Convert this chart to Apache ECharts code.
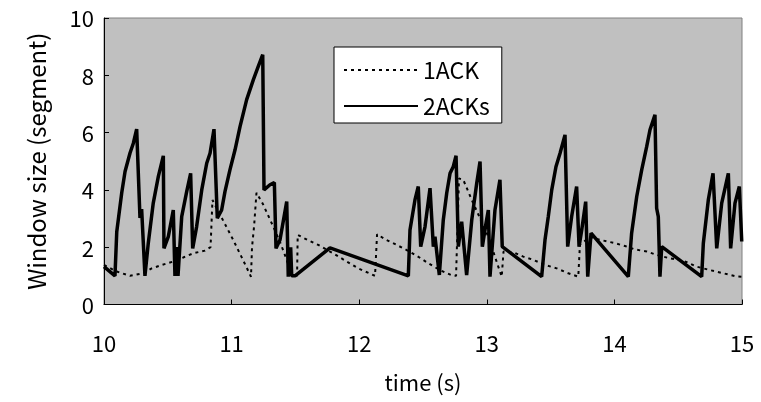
<!DOCTYPE html>
<html>
<head>
<meta charset="utf-8">
<script src="https://cdn.jsdelivr.net/npm/echarts@6/dist/echarts.min.js"></script>
<style>html,body{margin:0;padding:0;background:#fff}#c{width:761px;height:402px}</style>
</head>
<body>
<div id="c"></div>
<script>
var xTicks = [10, 11, 12, 13, 14, 15];
var yTicks = [0, 2, 4, 6, 8, 10];
var seriesNames = ['1ACK', '2ACKs'];

var ack1Times = [10.000,10.100,10.204,10.308,10.374,10.452,10.543,10.621,10.700,10.792,10.835,10.850,10.935,11.013,11.092,11.152,11.160,11.176,11.195,11.244,11.314,11.379,11.432,11.471,11.513,11.518,11.601,11.679,11.810,11.902,11.993,12.124,12.140,12.215,12.294,12.372,12.451,12.541,12.633,12.735,12.759,12.782,12.816,12.882,12.947,13.012,13.090,13.117,13.131,13.221,13.286,13.364,13.456,13.548,13.639,13.717,13.730,13.810,13.914,14.005,14.083,14.162,14.253,14.331,14.435,14.540,14.645,14.749,14.853,14.958,14.998];
var ack1Values = [1.38,1.15,1.00,1.09,1.26,1.38,1.50,1.64,1.79,1.88,2.00,3.65,2.92,2.25,1.53,0.97,2.00,2.72,3.90,3.52,2.84,2.19,1.56,1.00,1.00,2.43,2.24,2.08,1.75,1.50,1.26,1.00,2.45,2.25,2.08,1.90,1.70,1.44,1.20,1.00,1.00,4.40,4.35,3.65,3.01,2.37,1.32,0.97,1.85,1.80,1.67,1.56,1.38,1.26,1.09,0.97,2.10,2.35,2.23,2.14,2.04,1.92,1.85,1.73,1.61,1.53,1.32,1.20,1.09,0.98,0.97];

var ack2Times = [10.000,10.086,10.100,10.139,10.165,10.204,10.230,10.256,10.282,10.295,10.308,10.321,10.347,10.386,10.426,10.465,10.470,10.504,10.543,10.556,10.567,10.580,10.609,10.648,10.679,10.695,10.726,10.766,10.805,10.831,10.862,10.888,10.922,10.948,10.987,11.027,11.066,11.118,11.170,11.209,11.244,11.254,11.301,11.335,11.348,11.379,11.432,11.444,11.463,11.471,11.497,11.771,12.385,12.398,12.437,12.463,12.482,12.516,12.555,12.581,12.594,12.628,12.659,12.686,12.712,12.737,12.759,12.777,12.803,12.842,12.882,12.921,12.947,12.965,12.994,13.012,13.025,13.064,13.103,13.121,13.430,13.456,13.482,13.509,13.542,13.574,13.613,13.634,13.665,13.704,13.723,13.744,13.775,13.791,13.817,14.109,14.135,14.175,14.214,14.253,14.279,14.318,14.331,14.344,14.357,14.371,14.684,14.697,14.736,14.773,14.802,14.841,14.893,14.911,14.945,14.979,14.998];
var ack2Values = [1.32,1.00,2.54,3.90,4.64,5.29,5.63,6.12,3.02,3.33,3.30,1.00,2.14,3.54,4.47,5.19,1.96,2.37,3.30,1.00,2.00,1.00,3.07,3.94,4.58,1.96,2.72,4.00,4.93,5.28,6.12,3.01,3.30,3.94,4.70,5.40,6.21,7.15,7.84,8.31,8.72,4.00,4.18,4.26,1.96,2.25,3.59,0.97,2.00,1.00,1.00,1.98,1.00,2.60,3.65,4.12,2.02,2.72,4.06,2.02,2.37,1.03,2.95,3.89,4.58,4.81,5.19,2.02,2.89,1.03,2.95,4.23,4.99,2.02,2.84,3.30,0.97,3.30,4.35,2.02,0.97,2.25,3.07,4.00,4.81,5.28,5.92,2.02,3.07,4.12,2.02,2.60,3.59,0.97,2.49,0.97,2.49,3.77,4.70,5.51,6.10,6.62,3.36,3.07,0.97,2.02,0.97,2.14,3.65,4.58,1.96,3.54,4.58,1.96,3.54,4.12,2.20];

function pairs(ts, vs) { return ts.map(function (t, i) { return [t, vs[i]]; }); }

var FONT = 'Noto Sans CJK JP';
var chart = echarts.init(document.getElementById('c'), null, { renderer: 'canvas' });
chart.setOption({
  animation: false,
  backgroundColor: '#ffffff',
  textStyle: { fontFamily: FONT },
  grid: { left: 104, right: 19, top: 18, bottom: 97.5, show: true, backgroundColor: '#c0c0c0', borderColor: '#808080', borderWidth: 1 },
  legend: {
    left: 334, top: 47, orient: 'vertical', align: 'left',
    backgroundColor: '#ffffff', borderColor: '#000000', borderWidth: 1, borderRadius: 0,
    padding: [10, 12, 4, 9], itemGap: 10, itemWidth: 74, itemHeight: 14,
    itemStyle: { opacity: 0 },
    textStyle: { fontFamily: FONT, fontSize: 23, color: '#000', lineHeight: 26 },
    data: seriesNames
  },
  xAxis: {
    type: 'value', min: xTicks[0], max: xTicks[xTicks.length - 1], interval: 1,
    name: 'time (s)', nameLocation: 'middle', nameGap: 67,
    nameTextStyle: { fontFamily: FONT, fontSize: 22, color: '#000' },
    axisLine: { lineStyle: { color: '#000', width: 1 } },
    axisTick: { inside: true, length: 5, lineStyle: { color: '#000' } },
    axisLabel: { margin: 28, fontSize: 22, color: '#000', fontFamily: FONT },
    splitLine: { show: false }
  },
  yAxis: {
    type: 'value', min: yTicks[0], max: yTicks[yTicks.length - 1], interval: 2,
    name: 'Window size (segment)', nameLocation: 'middle', nameGap: 55, nameRotate: 90,
    nameTextStyle: { fontFamily: FONT, fontSize: 24, color: '#000' },
    axisLine: { show: true, lineStyle: { color: '#000', width: 1 } },
    axisTick: { show: true, inside: true, length: 5, lineStyle: { color: '#000' } },
    axisLabel: { margin: 10, fontSize: 22, color: '#000', fontFamily: FONT, verticalAlign: 'top', padding: [-10, 0, 0, 0] },
    splitLine: { show: false }
  },
  series: [
    {
      name: seriesNames[0], type: 'line', showSymbol: false, symbol: 'none',
      data: pairs(ack1Times, ack1Values),
      lineStyle: { color: '#000', width: 2, type: [3, 4] },
      itemStyle: { color: '#000' }, z: 2
    },
    {
      name: seriesNames[1], type: 'line', showSymbol: false, symbol: 'none',
      data: pairs(ack2Times, ack2Values),
      lineStyle: { color: '#000', width: 3.5 },
      itemStyle: { color: '#000' }, z: 3
    }
  ]
});
</script>
</body>
</html>
